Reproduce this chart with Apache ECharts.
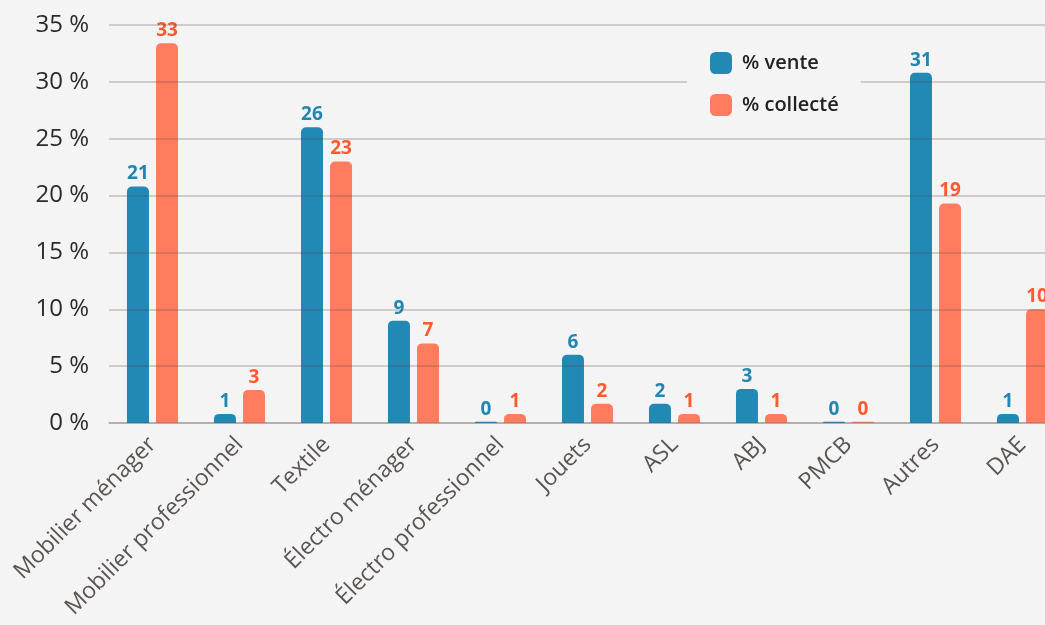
<!DOCTYPE html>
<html>
<head>
<meta charset="utf-8">
<script src="https://cdn.jsdelivr.net/npm/echarts@6/dist/echarts.min.js"></script>
<style>
  html, body { margin: 0; padding: 0; background: #f4f4f4; }
  #chart { width: 1045px; height: 625px; }
</style>
</head>
<body>
<div id="chart"></div>
<script>
const categories = ['Mobilier ménager', 'Mobilier professionnel', 'Textile', 'Électro ménager',
  'Électro professionnel', 'Jouets', 'ASL', 'ABJ', 'PMCB', 'Autres', 'DAE']
const vente = [20.8, 0.8, 26.0, 9.0, 0.1, 6.0, 1.7, 3.0, 0.1, 30.8, 0.8]
const collecte = [33.4, 2.9, 23.0, 7.0, 0.8, 1.7, 0.8, 0.8, 0.1, 19.3, 10.0]
const seriesNames = ['% vente', '% collecté']

const blue = '#2289b4'
const orange = '#ff7d5e'
const font = 'Open Sans'

const chart = echarts.init(document.getElementById('chart'))
const makeSeries = (name, data, color, labelColor) => ({
  name: name,
  type: 'bar',
  data: data,
  barWidth: 22,
  barGap: '32%',
  itemStyle: { color: color, borderRadius: [5, 5, 0, 0] },
  label: {
    show: true,
    position: 'top',
    distance: 3,
    color: labelColor,
    fontFamily: font,
    fontWeight: 'bold',
    fontSize: 19,
    formatter: (p) => Math.round(p.value)
  }
})

chart.setOption({
  backgroundColor: '#f4f4f4',
  animation: false,
  grid: { left: 109, right: -21, top: 25, bottom: 202, outerBoundsMode: 'none' },
  legend: {
    orient: 'vertical',
    left: 687,
    top: 40,
    padding: [12, 22, 12, 23],
    backgroundColor: '#f4f4f4',
    itemWidth: 22,
    itemHeight: 22,
    itemGap: 20,
    icon: 'roundRect',
    textStyle: { fontFamily: font, fontWeight: 600, fontSize: 20, color: '#222', padding: [0, 0, 0, 5] },
    data: seriesNames
  },
  xAxis: {
    type: 'category',
    data: categories,
    axisLine: { lineStyle: { color: '#c4c0c0', width: 1.5 } },
    axisTick: { show: false },
    axisLabel: {
      interval: 0,
      rotate: 45,
      margin: 18,
      fontFamily: font,
      fontSize: 23,
      color: '#5a5452'
    }
  },
  yAxis: {
    type: 'value',
    min: 0,
    max: 35,
    interval: 5,
    z: 3,
    axisLine: { show: false },
    axisTick: { show: false },
    splitLine: { lineStyle: { color: 'rgba(90,70,70,0.3)', width: 1.5 } },
    axisLabel: {
      margin: 20,
      fontFamily: font,
      fontSize: 24,
      color: '#2a2a2a',
      formatter: '{value} %'
    }
  },
  series: [
    makeSeries(seriesNames[0], vente, blue, '#2286b2'),
    makeSeries(seriesNames[1], collecte, orange, '#ff5a30')
  ]
})
</script>
</body>
</html>
